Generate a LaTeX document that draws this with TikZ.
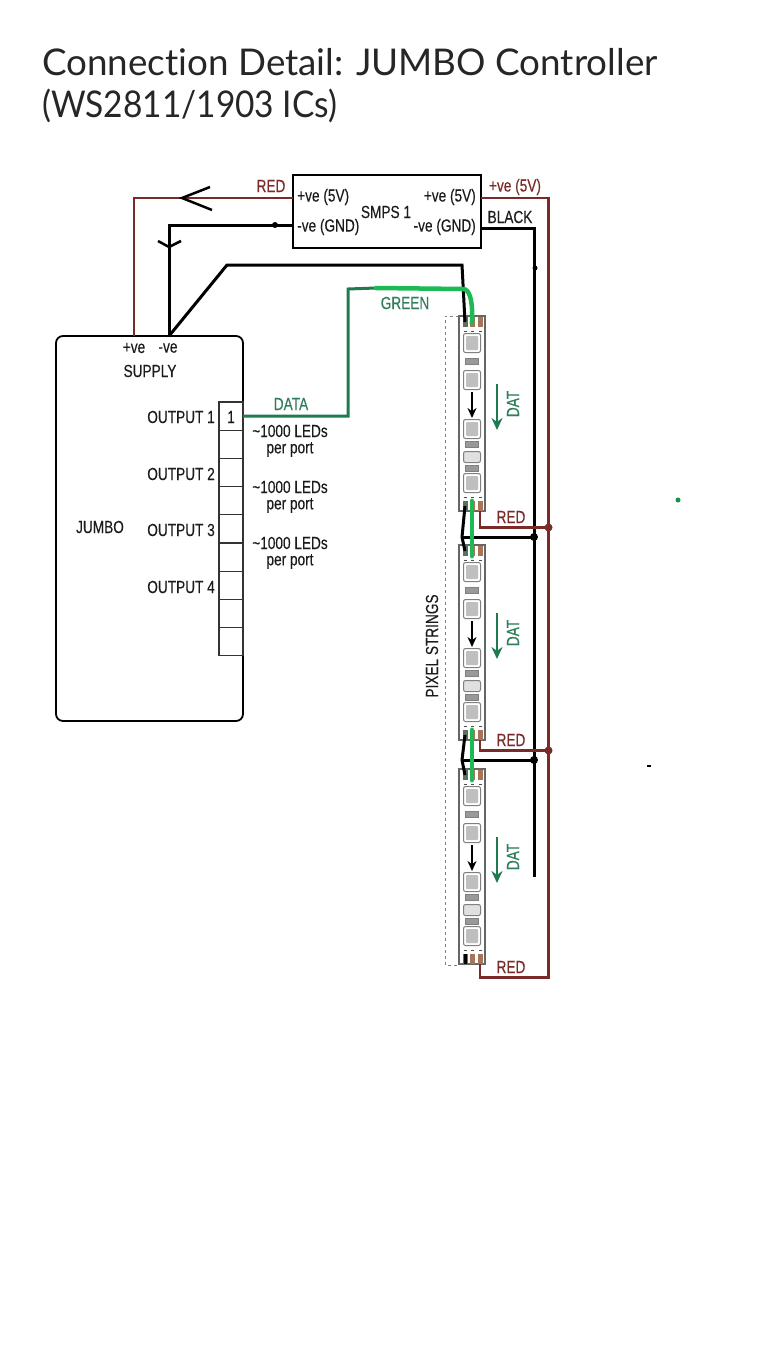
\documentclass[tikz,border=0pt]{standalone}
\usepackage{fontspec}
\setmainfont[FakeStretch=0.78,FakeBold=0.25]{Liberation Sans}
\newfontfamily\titlefont[Ligatures=NoCommon]{Lato}
\usepackage{xcolor}
\usetikzlibrary{arrows.meta,positioning,calc}
\definecolor{wirered}{HTML}{7B2A2A}
\definecolor{wiregreen}{HTML}{1F7A4D}
\definecolor{brightgreen}{HTML}{1DB954}
\definecolor{labelgreen}{HTML}{2F7D5B}
\definecolor{inktext}{HTML}{1C1C1C}
\definecolor{padbrown}{HTML}{A87458}
\definecolor{padgreen}{HTML}{5F6F5F}

\begin{document}
\begin{tikzpicture}[x=1pt,y=-1pt,>=Stealth,
    every node/.style={font=\fontsize{17.5}{20}\selectfont,text=inktext,inner sep=0pt},
    redwire/.style={draw=wirered,line width=2.9pt},
    blackwire/.style={draw=black,line width=3pt},
    greenwire/.style={draw=wiregreen,line width=3pt},
    brightwire/.style={draw=brightgreen,line width=4.5pt,line cap=round},
    redlabel/.style={text=wirered},
    greenlabel/.style={text=labelgreen},
    titleline/.style={anchor=base west,font=\titlefont\fontsize{36.8}{42}\selectfont,text=black!85},
    portbox/.style={draw=black!80,line width=1.1pt,minimum width=24pt,minimum height=28.2pt},
    stripbox/.style={draw=black!60,line width=1.2pt,fill=white,minimum width=26pt,minimum height=195pt},
    ledbox/.style={draw=black!50,fill=white,line width=1pt,rounded corners=2pt,minimum width=17pt,minimum height=19pt},
    ledcore/.style={fill=black!25,rounded corners=1pt,minimum width=12pt,minimum height=14pt},
    resbox/.style={draw=black!50,fill=black!40,line width=0.8pt,minimum width=13pt,minimum height=6pt},
    pad/.style={minimum width=5pt,minimum height=10pt},
    junction/.style={circle,inner sep=0pt,minimum size=#1}]
  \useasboundingbox (0,0) rectangle (768,1370);

  % title
  \node[titleline] (title1) at (42,76) {Connection Detail: JUMBO Controller};
  \node[titleline,xscale=0.91,transform shape] (title2) at (42,118) {(WS2811/1903 ICs)};

  % pixel strings
  \draw[gray,dashed,line width=1pt] (459,316) -- (445,316) -- (445,965) -- (459,965);
  \foreach \off/\nm in {0/a,229/b,453/c} {
    \node[stripbox] (strip\nm) at (472,413.5+\off) {};
    \foreach \i/\ly in {1/343,2/380,3/429,4/483} {
      \node[ledbox] (led\nm\i) at (472,\ly+\off) {};
      \node[ledcore] (core\nm\i) at (472,\ly+\off) {};
    }
    \foreach \i/\ly in {1/361,2/444,3/468}
      \node[resbox] (res\nm\i) at (472,\ly+\off) {};
    \node[draw=black!50,fill=black!12,line width=1pt,rounded corners=2pt,minimum width=17pt,minimum height=11pt] (mid\nm) at (472,457+\off) {};
    \foreach \i/\px/\pc in {1/465/padgreen,2/472/padbrown,3/480/padbrown} {
      \node[pad,fill=\pc] (top\nm\i) at (\px,322+\off) {};
      \node[pad,fill=\pc] (bot\nm\i) at (\px,506+\off) {};
      \draw[black!70,line width=1pt] (\px-1.5,331+\off) -- (\px+1.5,331+\off);
      \draw[black!70,line width=1pt] (\px-1.5,497+\off) -- (\px+1.5,497+\off);
    }
    \draw[-{Stealth[length=10pt,width=9pt]},black,line width=1.6pt] (472,392+\off) -- (472,418+\off);
    \draw[-{Stealth[length=12pt,width=11pt]},draw=wiregreen,line width=2.2pt] (497,384+\off) -- (497,430+\off);
    \node[greenlabel,rotate=90] (dat\nm) at (513,404+\off) {DAT};
  }
  \node[rotate=90] (pixlabel) at (432,646) {PIXEL STRINGS};

  % power supply
  \node[draw=black,line width=1.8pt,minimum width=188pt,minimum height=73pt] (smps) at (387,211.5) {};
  \node[anchor=west] (smpsposl) at (297,197) {+ve (5V)};
  \node[anchor=west] (smpsnegl) at (297,227) {-ve (GND)};
  \node[anchor=east] (smpsposr) at (476,197) {+ve (5V)};
  \node[anchor=east] (smpsnegr) at (476,227) {-ve (GND)};
  \node (smpsname) at (386,212) {SMPS 1};

  % controller
  \node[draw=black,line width=1.8pt,rounded corners=7pt,minimum width=187pt,minimum height=385pt] (jumbo) at (149.5,528.5) {};
  \node (jumboname) at (100,527) {JUMBO};
  \node (pos) at (134,348) {+ve};
  \node (neg) at (168,348) {-ve};
  \node (supply) at (150,371) {SUPPLY};
  \foreach \i in {1,...,9}
    \node[portbox] (port\i) at (231,402+28.2*\i-14.1) {};
  \node (portnum) at (231,417) {1};
  \foreach \i/\oy in {1/417,2/474,3/530,4/587}
    \node[anchor=east] (out\i) at (215,\oy) {OUTPUT \i};
  \foreach \i/\ty in {1/431,2/487,3/543} {
    \node (led\i) at (290,\ty) {\textasciitilde 1000 LEDs};
    \node (per\i) at (290,\ty+18.5) {per port};
  }

  % junction points
  \coordinate (redin) at (293,198);
  \coordinate (redout) at (481,198);
  \coordinate (blackin) at (293,225);
  \coordinate (blackout) at (481,228);
  \coordinate (jpos) at (134,336);
  \coordinate (jneg) at (169,336);
  \coordinate (dataout) at (243,416);
  \coordinate (dataknee) at (348,416);
  \coordinate (kneeblack) at (227,265);
  \coordinate (turnblack) at (462,265);
  \coordinate (greenknee) at (348,289);
  \coordinate (greenstart) at (376,288);
  \coordinate (redend) at (548.5,977.5);
  \coordinate (blackend) at (534,877);

  % wires
  \draw[redwire] (redin) -| (jpos);
  \draw[blackwire] (blackin) -| (jneg);
  \draw[blackwire] (jneg) -- (kneeblack) -- (turnblack) -- (topa1.center);
  \draw[greenwire] (dataout) -- (dataknee) -- (greenknee) -- (greenstart);
  \draw[brightwire] (greenstart) -- (463,289) to[out=0,in=-95] (topa2.center);
  \draw[redwire] (redout) -| (redend) -| (botc3.south);
  \draw[blackwire] (blackout) -| (blackend);

  % branch wires
  \foreach \nm/\nx/\ry/\by in {a/b/527.5/537,b/c/750.5/760} {
    \draw[redwire] (bot\nm3.south) |- (548.5,\ry);
    \node[junction=8pt,fill=wirered] (redj\nm) at (548.5,\ry) {};
    \draw[blackwire] (bot\nm1.center) -- (462,\by) -- (top\nx1.center);
    \draw[blackwire] (462,\by) -- (534,\by);
    \node[junction=8pt,fill=black] (blackj\nm) at (534,\by) {};
    \draw[brightwire] (bot\nm2.north) -- (top\nx2.south);
  }
  \draw[blackwire] (botc1.north) -- (botc1.south);

  % hand drawn marks
  \draw[black,line width=2.5pt] (210,187) -- (182,198) -- (212,210);
  \draw[black,line width=2.5pt] (158,241) -- (169,247) -- (181,241);
  \node[junction=6pt,fill=black] (dotgnd) at (275,225) {};
  \node[junction=5pt,fill=black] (dotrail) at (535,268) {};
  \node[junction=5pt,fill=brightgreen!80!black] (dotgreen) at (678,500) {};
  \node[minimum width=4pt,minimum height=2.5pt,fill=black] (dotblack) at (649,766) {};

  % wire labels
  \node[redlabel] (redtop) at (271,186) {RED};
  \node[redlabel] (posright) at (515,187) {+ve (5V)};
  \node (blacklabel) at (510,217) {BLACK};
  \node[greenlabel] (greenlabel) at (405,303) {GREEN};
  \node[greenlabel] (datalabel) at (291,404) {DATA};
  \foreach \i/\ry in {1/517,2/740,3/967}
    \node[redlabel] (red\i) at (511,\ry) {RED};
\end{tikzpicture}
\end{document}
